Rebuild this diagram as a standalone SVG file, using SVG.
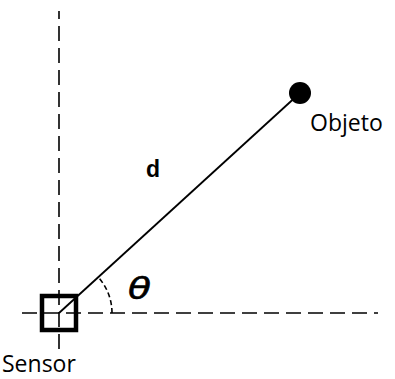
<svg xmlns="http://www.w3.org/2000/svg" width="395" height="379" viewBox="0 0 395 379">
<style>
.axis{stroke:#000;stroke-width:1.6;fill:none;stroke-dasharray:15 7}
.lbl{font-family:"Open Sans","Liberation Sans",sans-serif;font-size:23px;fill:#000}
</style>
<rect width="395" height="379" fill="#fff"/>
<g id="connectors">
<line class="axis" x1="59" y1="11" x2="59" y2="350" stroke-dashoffset="7"/>
<line class="axis" x1="22" y1="313" x2="378" y2="313"/>
<line id="distance" x1="59" y1="313" x2="300" y2="93" stroke="#000" stroke-width="1.8"/>
<path id="angle-arc" d="M112,313 A53,53 0 0 0 98.2,277.2" fill="none" stroke="#000" stroke-width="1.6" stroke-dasharray="5 3"/>
</g>
<g id="sensor">
<rect x="42" y="296" width="34" height="34" fill="none" stroke="#000" stroke-width="4.5"/>
<text class="lbl" x="2" y="372">Sensor</text>
</g>
<g id="objeto">
<circle cx="300" cy="93" r="11" fill="#000"/>
<text class="lbl" x="310" y="131">Objeto</text>
</g>
<g id="labels">
<text x="146" y="177" font-family="Liberation Sans, Arial, sans-serif" font-weight="bold" font-size="23">d</text>
<text transform="translate(128 299) scale(1.25 1)" x="0" y="0" font-family="DejaVu Sans, sans-serif" font-style="italic" font-size="30" stroke="#000" stroke-width="0.6">θ</text>
</g>
</svg>
